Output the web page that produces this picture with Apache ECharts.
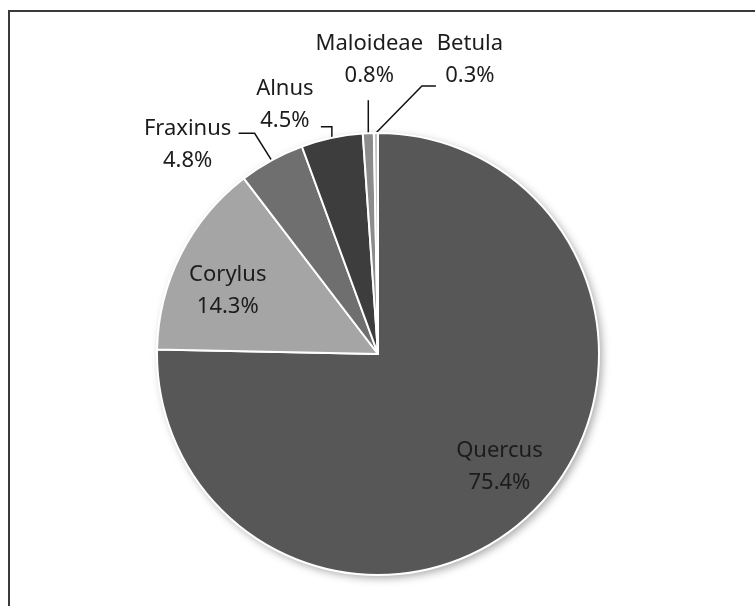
<!DOCTYPE html>
<html>
<head>
<meta charset="utf-8">
<script src="https://cdn.jsdelivr.net/npm/echarts@6/dist/echarts.min.js"></script>
<style>
  html, body { margin: 0; padding: 0; background: #ffffff; }
  #chart { width: 755px; height: 606px; }
</style>
</head>
<body>
<div id="chart"></div>
<script>
// Pollen composition (percent of total)
const taxa = ['Quercus', 'Corylus', 'Fraxinus', 'Alnus', 'Maloideae', 'Betula'];
const shares = [75.4, 14.3, 4.8, 4.5, 0.8, 0.3];
const sliceColors = ['#575757', '#a5a5a5', '#6f6f6f', '#3d3d3d', '#8c8c8c', '#c4c4c4'];

// Label placement, relative to the default anchor of each label.
// Inside labels: shift from the mid-radius point.
// Outside labels: label centre and elbow points, relative to the point on the rim.
const labelTweaks = {
  Quercus:   { inside: true, dx: 42, dy: 32 },
  Corylus:   { inside: true, dx: -49, dy: -12 },
  Fraxinus:  { at: [-84, -16], line: [[-17, -27], [-33, -27]] },
  Alnus:     { at: [-47, -33], line: [[0, -11], [-11, -11]] },
  Maloideae: { at: [1, -73], line: [[0, -33]] },
  Betula:    { at: [94, -73], line: [[46, -47], [60, -47]] }
};

const chart = echarts.init(document.getElementById('chart'));

const pieCenter = [378, 354];
const pieRadius = 221;

const data = taxa.map((name, i) => ({
  name: name,
  value: shares[i],
  itemStyle: { color: sliceColors[i] },
  label: { position: labelTweaks[name].inside ? 'inside' : 'outside' },
  labelLine: { show: !labelTweaks[name].inside }
}));

chart.setOption({
  animation: false,
  backgroundColor: '#ffffff',
  graphic: [{
    type: 'rect',
    shape: { x: 9, y: 11, width: 800, height: 700 },
    style: { fill: 'none', stroke: '#3a3a3a', lineWidth: 2 },
    z: 0
  }],
  series: [
    {
      // soft drop shadow under the pie
      type: 'pie',
      silent: true,
      center: pieCenter,
      radius: pieRadius,
      z: 1,
      label: { show: false },
      labelLine: { show: false },
      itemStyle: {
        color: '#d8d8d8',
        shadowBlur: 8,
        shadowOffsetX: 3,
        shadowOffsetY: 3,
        shadowColor: 'rgba(0,0,0,0.35)'
      },
      data: [{ value: 1 }]
    },
    {
      type: 'pie',
      center: pieCenter,
      radius: pieRadius,
      startAngle: 90,
      clockwise: true,
      z: 2,
      itemStyle: { borderColor: '#ffffff', borderWidth: 2 },
      label: {
        show: true,
        formatter: p => p.name + '\n' + p.value.toFixed(1) + '%',
        fontFamily: 'Noto Sans',
        fontSize: 22,
        lineHeight: 32,
        color: '#1c1c1c',
        align: 'center'
      },
      labelLine: {
        show: true,
        length: 20,
        length2: 10,
        smooth: false,
        lineStyle: { color: '#111111', width: 1.5 }
      },
      emphasis: { disabled: true },
      labelLayout: function (params) {
        const name = taxa[params.dataIndex];
        const t = labelTweaks[name];
        if (t.inside) {
          return { dx: t.dx, dy: t.dy };
        }
        const p0 = params.labelLinePoints[0];
        const pts = [[p0[0], p0[1]]].concat(
          t.line.map(d => [p0[0] + d[0], p0[1] + d[1]])
        );
        return {
          x: p0[0] + t.at[0],
          y: p0[1] + t.at[1],
          align: 'center',
          verticalAlign: 'middle',
          labelLinePoints: pts
        };
      },
      data: data
    }
  ]
});
</script>
</body>
</html>
